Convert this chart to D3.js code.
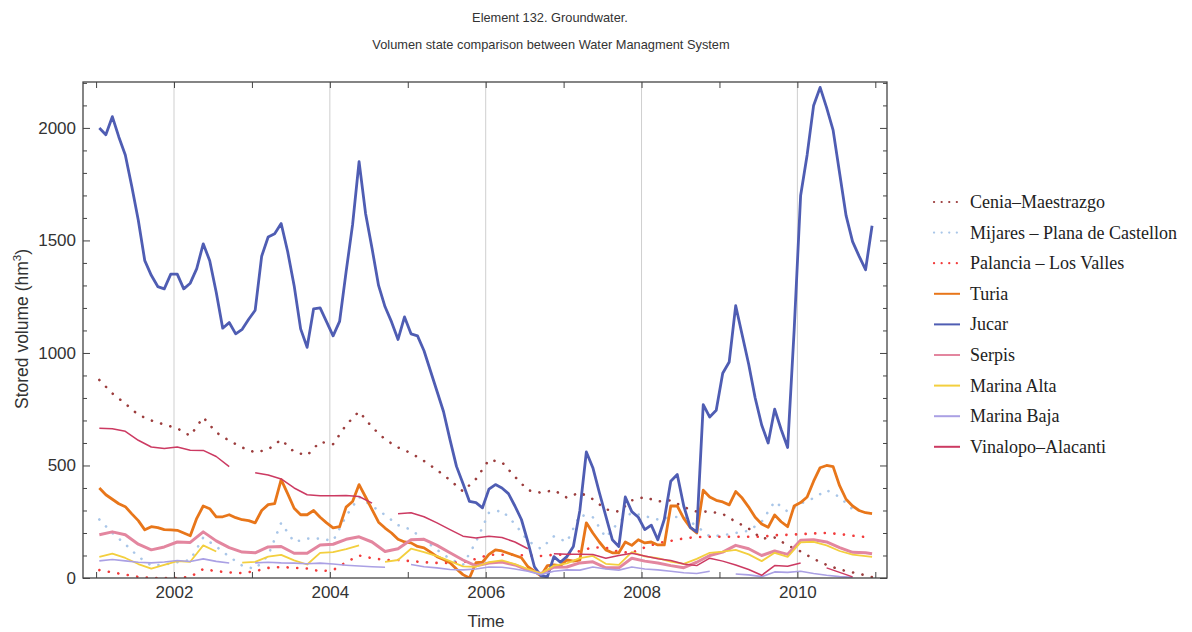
<!DOCTYPE html>
<html><head><meta charset="utf-8">
<script src="https://cdnjs.cloudflare.com/ajax/libs/d3/7.8.5/d3.min.js"></script>
<style>body{margin:0;background:#fff}</style>
</head><body>
<svg id="c" width="1192" height="632"></svg>
<script>
// ---- Data ----
// monthly series: month index 0..119 (Jan 2001 .. Dec 2010)
const monthIdx = d3.range(120);
// bimonthly readings: every second month, plus the last month
const bimonthIdx = d3.range(0, 120, 2).concat([119]);

const seriesNames = ["Cenia\u2013Maestrazgo","Mijares \u2013 Plana de Castellon","Palancia \u2013 Los Valles","Turia","Jucar","Serpis","Marina Alta","Marina Baja","Vinalopo\u2013Alacanti"];

const jucar = [2000,1970,2050,1960,1880,1740,1590,1410,1345,1295,
1285,1350,1350,1285,1310,1375,1485,1410,1270,1110,
1135,1085,1105,1150,1190,1430,1515,1530,1575,1451,
1299,1107,1025,1196,1200,1138,1076,1140,1360,1570,
1850,1620,1464,1300,1205,1138,1060,1160,1085,1076,
1010,920,830,740,615,496,420,340,335,312,
395,415,400,375,320,260,160,50,10,5,
95,70,95,140,300,560,490,380,275,170,
140,360,295,270,215,235,170,260,430,460,
320,225,205,770,715,745,910,960,1210,1080,
950,800,680,600,750,660,580,1100,1700,1880,
2100,2180,2090,1990,1800,1610,1495,1430,1370,1565];

const turia = [400,370,350,330,317,285,255,214,228,224,
215,214,212,200,188,265,320,308,272,272,
281,268,259,255,245,300,326,330,437,375,
310,281,281,300,270,245,223,228,315,340,
415,360,304,248,222,200,172,160,156,140,
134,115,95,82,68,40,15,0,68,70,
105,125,120,110,100,90,50,30,10,55,
58,55,80,75,80,245,200,160,125,112,
112,160,145,170,156,160,147,147,320,320,
265,225,200,390,360,345,338,325,384,355,
315,270,240,225,280,250,228,320,335,360,
430,490,500,495,410,350,320,300,290,286];

const cenia = [880,820,775,725,700,682,665,632,714,647,610,580,
558,571,615,560,545,605,595,680,740,670,616,580,
555,520,480,435,385,440,525,515,450,390,379,390,357,
380,350,305,295,345,360,340,345,315,295,295,285,
250,220,175,180,145,118,85,58,38,25,12,4];

const mijares = [260,200,150,95,55,60,70,80,180,140,95,55,
40,100,245,160,175,175,165,275,360,320,280,235,
215,170,125,85,58,160,290,300,240,165,130,185,160,
280,270,180,250,290,275,260,270,272,230,185,190,
200,210,250,340,295,330,355,390,360,305,null,null];

const palancia = [35,25,15,5,0,0,0,5,40,30,25,22,
30,45,49,45,42,30,35,70,100,88,80,80,
75,70,67,67,70,85,103,103,103,100,98,103,103,
120,136,135,116,112,136,155,165,176,182,183,183,
183,183,183,190,192,195,198,200,195,188,182,180];

const serpis = [192,205,192,150,125,138,160,158,205,165,135,115,
112,138,140,110,110,147,150,172,183,160,118,130,
170,172,145,112,80,54,67,71,58,35,20,48,49,
67,72,45,45,88,75,67,55,46,70,100,115,
145,130,100,120,105,168,170,160,135,114,112,108];

const marinaAlta = [94,108,89,62,42,58,75,72,145,118,null,68,
72,95,103,78,60,112,115,128,145,null,72,80,
130,115,97,75,52,50,70,78,62,40,20,55,65,
88,98,63,58,115,96,88,73,63,85,112,117,
125,105,75,112,94,158,161,145,120,104,97,94];

const marinaBaja = [76,82,76,70,67,71,78,73,85,74,67,null,
67,70,67,66,63,66,62,57,53,50,48,null,
60,50,45,38,36,40,49,48,40,30,15,30,36,
35,49,40,35,49,40,36,30,23,20,30,null,
18,14,6,27,25,30,20,12,6,3,null,null];

const vinalopo = [665,663,652,612,582,575,582,568,567,540,495,null,
468,458,440,400,370,366,366,367,362,333,null,285,
290,272,245,215,186,178,185,180,160,130,null,108,105,
105,104,88,100,110,98,86,78,62,55,88,75,
58,38,12,55,52,67,null,45,25,5,null,null];

const yMajorTicks = [0,500,1000,1500,2000];
const xTickYears = d3.range(2001, 2012);
const gridYears = [2002,2004,2006,2008,2010];

// ---- Build series ----
const toYear = i => 2001 + (i + 0.5) / 12;
function pack(idx, vals){ return idx.map((m,k)=>({t:toYear(m), v:vals[k]})); }
const series = [
  {name:seriesNames[0], data:pack(bimonthIdx,cenia),     color:"#9c3d3d", w:2.6, dash:"0.1,9.5"},
  {name:seriesNames[1], data:pack(bimonthIdx,mijares),   color:"#a9c6e8", w:2.6, dash:"0.1,9.5"},
  {name:seriesNames[2], data:pack(bimonthIdx,palancia),  color:"#f23c3c", w:2.6, dash:"0.1,9.5"},
  {name:seriesNames[3], data:pack(monthIdx,turia),       color:"#e8761a", w:2.8},
  {name:seriesNames[4], data:pack(monthIdx,jucar),       color:"#4f5db3", w:2.8},
  {name:seriesNames[5], data:pack(bimonthIdx,serpis),    color:"#e3869f", w:3},
  {name:seriesNames[6], data:pack(bimonthIdx,marinaAlta),color:"#f3cf3e", w:1.8},
  {name:seriesNames[7], data:pack(bimonthIdx,marinaBaja),color:"#aaa0e4", w:1.6},
  {name:seriesNames[8], data:pack(bimonthIdx,vinalopo),  color:"#cc3a62", w:1.5}
];

// ---- Layout ----
const L=83, T=82, R=887, B=578;
const svg = d3.select("#c");
const x = d3.scaleLinear().domain([2000.832, 2011.15]).range([L,R]);
const y = d3.scaleLinear().domain([0, 2204]).range([B,T]);
const FONT = "'Liberation Sans', Arial, sans-serif";

// title
const title = svg.append("g").attr("font-family",FONT).attr("font-size",12.8).attr("fill","#333").attr("text-anchor","middle");
title.append("text").attr("x",550).attr("y",22).text("Element 132. Groundwater.");
title.append("text").attr("x",551).attr("y",49).text("Volumen state comparison between Water Managment System");

// grid
svg.append("g").selectAll("line").data(gridYears).join("line")
  .attr("x1",d=>x(d)).attr("x2",d=>x(d)).attr("y1",T).attr("y2",B)
  .attr("stroke","#cfcfcf").attr("stroke-width",1);

// clip
svg.append("clipPath").attr("id","clip").append("rect").attr("x",L).attr("y",T-2).attr("width",R-L).attr("height",B-T+2);

const line = d3.line().defined(d=>d.v!=null).x(d=>x(d.t)).y(d=>y(d.v));
const lines = svg.append("g").attr("clip-path","url(#clip)");
series.forEach(s=>{
  lines.append("path").datum(s.data).attr("d",line)
    .attr("fill","none").attr("stroke",s.color).attr("stroke-width",s.w)
    .attr("stroke-linejoin","round").attr("stroke-linecap", s.dash?"round":"butt")
    .attr("stroke-dasharray", s.dash||null);
});

// axes
function styleAxis(g){
  g.select(".domain").remove();
  g.selectAll(".tick line").attr("stroke","#444").attr("stroke-width",1);
  g.selectAll(".tick text").attr("fill","#333").attr("font-size",17).attr("font-family",FONT);
}
svg.append("g").attr("transform",`translate(0,${B})`)
  .call(d3.axisBottom(x).tickValues(xTickYears).tickFormat(d=>d%2===0?String(d):"").tickSizeInner(-6).tickSizeOuter(0).tickPadding(8))
  .call(styleAxis);
svg.append("g").attr("transform",`translate(0,${T})`)
  .call(d3.axisTop(x).tickValues(xTickYears).tickFormat("").tickSizeInner(-6).tickSizeOuter(0))
  .call(styleAxis);
svg.append("g").attr("transform",`translate(${L},0)`)
  .call(d3.axisLeft(y).tickValues(d3.range(0,2201,100).filter(v=>v%500)).tickFormat("").tickSizeInner(-4).tickSizeOuter(0))
  .call(styleAxis);
svg.append("g").attr("transform",`translate(${L},0)`)
  .call(d3.axisLeft(y).tickValues(yMajorTicks).tickFormat(d3.format("d")).tickSizeInner(-7).tickSizeOuter(0).tickPadding(7))
  .call(styleAxis);
svg.append("g").attr("transform",`translate(${R},0)`)
  .call(d3.axisRight(y).tickValues(d3.range(0,2201,100).filter(v=>v%500)).tickFormat("").tickSizeInner(-4).tickSizeOuter(0))
  .call(styleAxis);
svg.append("g").attr("transform",`translate(${R},0)`)
  .call(d3.axisRight(y).tickValues(yMajorTicks).tickFormat("").tickSizeInner(-7).tickSizeOuter(0))
  .call(styleAxis);

// frame
svg.append("rect").attr("x",L).attr("y",T).attr("width",R-L).attr("height",B-T)
  .attr("fill","none").attr("stroke","#444").attr("stroke-width",1.3);

// axis labels
svg.append("text").attr("x",(L+R)/2+1).attr("y",627).attr("text-anchor","middle")
  .attr("font-family",FONT).attr("font-size",17).attr("fill","#333").text("Time");
const yl = svg.append("text").attr("transform","translate(28,329) rotate(-90)").attr("text-anchor","middle")
  .attr("font-family",FONT).attr("font-size",17.5).attr("fill","#333");
yl.append("tspan").text("Stored volume (hm");
yl.append("tspan").attr("dy",-7).attr("font-size",11.5).text("3");
yl.append("tspan").attr("dy",7).text(")");

// legend
const lg = svg.append("g");
series.forEach((s,i)=>{
  const cy = 202 + i*30.6;
  lg.append("line").attr("x1",934).attr("x2",960).attr("y1",cy).attr("y2",cy)
    .attr("stroke",s.color).attr("stroke-width",s.dash?2.2:2)
    .attr("stroke-linecap",s.dash?"round":"butt").attr("stroke-dasharray",s.dash?"0.1,7.5":null);
  lg.append("text").attr("x",970).attr("y",cy+6).attr("font-family","'Liberation Serif','Times New Roman',serif")
    .attr("font-size",18).attr("fill","#222").text(s.name);
});
</script>
</body></html>
